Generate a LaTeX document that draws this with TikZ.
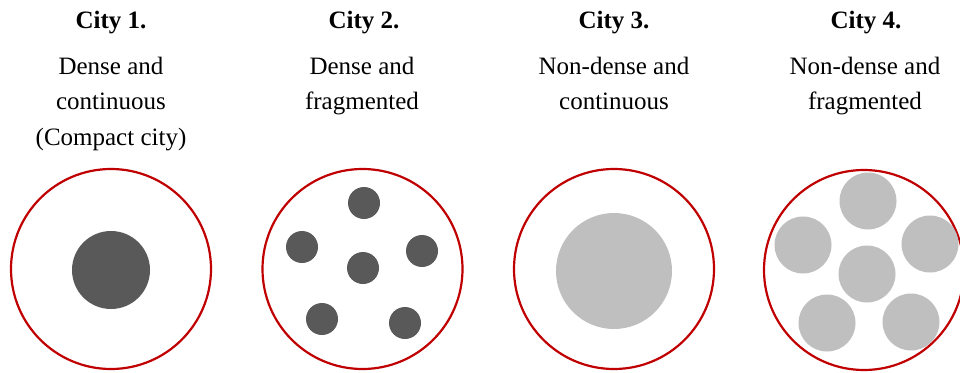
\documentclass[tikz,border=0pt]{standalone}
\usepackage{fontspec}
\setmainfont{Liberation Serif}
\usetikzlibrary{positioning}

\definecolor{cityred}{HTML}{C00000}
\definecolor{densegray}{HTML}{595959}
\definecolor{sparsegray}{HTML}{BFBFBF}

\begin{document}
\begin{tikzpicture}[
        x=1pt, y=-1pt,
        title/.style={font=\fontsize{25}{30}\selectfont\bfseries, anchor=base, inner sep=0pt},
        desc/.style={font=\fontsize{25}{35.5}\selectfont, align=center, anchor=base, inner sep=0pt},
        border/.style={circle, draw=cityred, line width=2.2pt, minimum size=200pt, inner sep=0pt},
        dense/.style={circle, fill=densegray, inner sep=0pt},
        sparse/.style={circle, fill=sparsegray, inner sep=0pt}
    ]
    \useasboundingbox (0,0) rectangle (960,372);

    % Titles
    \node (t1) [title] at (111,28) {City 1.};
    \node (t2) [title] at (364,28) {City 2.};
    \node (t3) [title] at (614,28) {City 3.};
    \node (t4) [title] at (866,28) {City 4.};

    % Descriptions (placed at the baseline of their last line)
    \node (d1) [desc] at (111,145) {Dense and\\continuous\\(Compact city)};
    \node (d2) [desc] at (362,109.5) {Dense and\\fragmented};
    \node (d3) [desc] at (614,109.5) {Non-dense and\\continuous};
    \node (d4) [desc] at (865,109.5) {Non-dense and\\fragmented};

    % City boundaries
    \node (c1) [border] at (111,269) {};
    \node (c2) [border] at (362.5,269) {};
    \node (c3) [border] at (614,269) {};
    \node (c4) [border] at (864,270) {};

    % Built-up cores
    \node (k1) [dense, minimum size=78pt] at (111,270) {};
    \foreach \name/\x/\y in {a/364/203, b/302/247, c/422/251, d/363/268, e/322/319, f/405/323}
        \node (k2\name) [dense, minimum size=32pt] at (\x,\y) {};
    \node (k3) [sparse, minimum size=116pt] at (614,271) {};
    \foreach \name/\x/\y in {a/868/201, b/803/245, c/930/244, d/867/274, e/827/323, f/911/322}
        \node (k4\name) [sparse, minimum size=57pt] at (\x,\y) {};
\end{tikzpicture}
\end{document}
